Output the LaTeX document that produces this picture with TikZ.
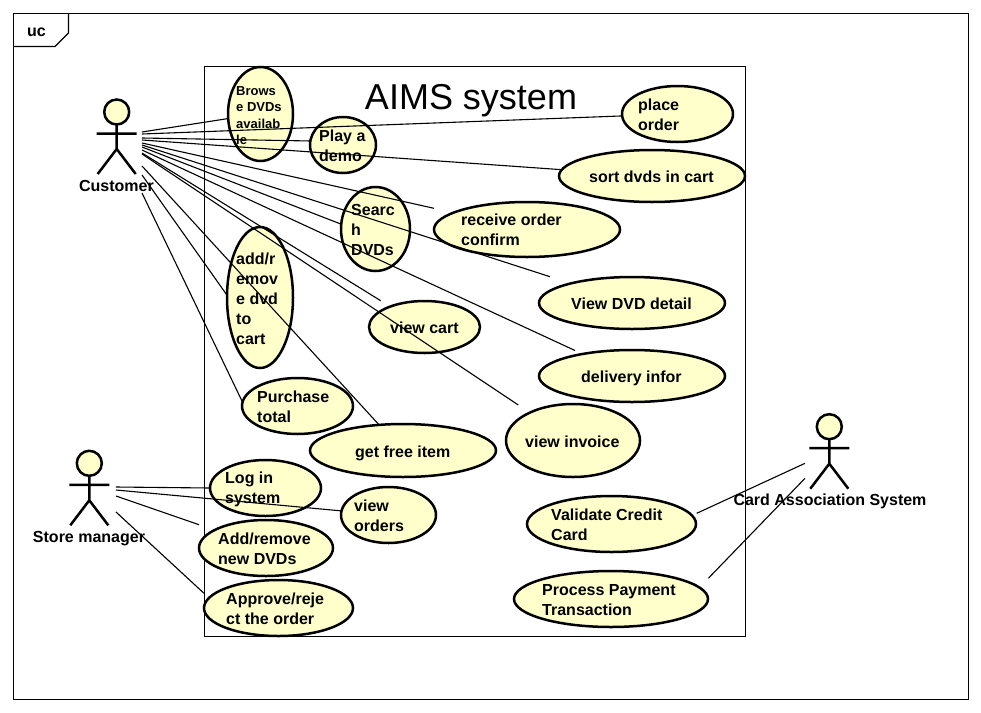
\documentclass[tikz,border=0pt]{standalone}
\usepackage{fontspec}
\setmainfont{Liberation Sans}
\definecolor{ucfill}{HTML}{FFFFCC}
\tikzset{
	usecase/.style={ellipse,draw=black,line width=2.5pt,fill=ucfill,inner sep=0pt,outer sep=0pt},
	usetext/.style={anchor=west,align=left,inner sep=0pt,yshift=-1pt,font=\bfseries\fontsize{16}{20}\selectfont},
	actortext/.style={inner sep=0pt,yshift=-1pt,font=\bfseries\fontsize{16}{20}\selectfont},
	assoc/.style={line width=1.1pt},
	actorfig/.pic={
		\draw[line width=2.5pt,fill=ucfill] (0,0) circle (12.5);
		\draw[line width=2.5pt] (0,12.5) -- (0,37) (-20,21.5) -- (20,21.5) (-19,62) -- (0,37) -- (19,62);
	}
}
\usetikzlibrary{shapes.geometric}
\begin{document}
\begin{tikzpicture}[x=1pt,y=-1pt]
	\useasboundingbox (0,0) rectangle (981,712);
	\draw[line width=1.2pt] (13.5,13.5) rectangle (968.5,699.5);
	\draw[line width=1.2pt] (13.5,46.5) -- (55,46.5) -- (68.5,33) -- (68.5,13.5);
	\node[usetext] (frametitle) at (27,31.5) {uc};
	\draw[line width=1pt] (204.5,66.5) rectangle (745.5,636.5);
	\node[inner sep=0pt,font=\fontsize{36}{40}\selectfont] (systemtitle) at (471,101) {AIMS system};

	\pic at (116.7,112) {actorfig};
	\node[actortext] (customer) at (116.5,185) {Customer};
	\pic at (89.3,463.3) {actorfig};
	\node[actortext] (manager) at (89,538) {Store manager};
	\pic at (829.3,426.7) {actorfig};
	\node[actortext] (cardsys) at (830,500) {Card Association System};

	\node[usecase,minimum width=65,minimum height=94] (browse) at (260.5,114) {};
	\node[usetext,font=\bfseries\fontsize{13}{16.5}\selectfont] (browsetext) at (236,114.5) {Brows\\e DVDs\\availab\\le};
	\node[usecase,minimum width=66,minimum height=56] (demo) at (343,145) {};
	\node[usetext] (demotext) at (319,145) {Play a\\demo};
	\node[usecase,minimum width=69,minimum height=84] (search) at (375.5,229) {};
	\node[usetext] (searchtext) at (351,229) {Searc\\h\\DVDs};
	\node[usecase,minimum width=111,minimum height=56] (place) at (677.5,114) {};
	\node[usetext] (placetext) at (638,114) {place\\order};
	\node[usecase,minimum width=186,minimum height=52] (sort) at (652,176) {};
	\node[usetext] (sorttext) at (589,176) {sort dvds in cart};
	\node[usecase,minimum width=186,minimum height=55] (receive) at (527,229.5) {};
	\node[usetext] (receivetext) at (461,229) {receive order\\confirm};
	\node[usecase,minimum width=186,minimum height=52] (detail) at (632,303) {};
	\node[usetext] (detailtext) at (571,303) {View DVD detail};
	\node[usecase,minimum width=186,minimum height=52] (delivery) at (632,376) {};
	\node[usetext] (deliverytext) at (581,377) {delivery infor};
	\node[usecase,minimum width=111,minimum height=52] (cart) at (424.5,327) {};
	\node[usetext] (carttext) at (390,327) {view cart};
	\node[usecase,minimum width=134,minimum height=73] (invoice) at (573,440.5) {};
	\node[usetext] (invoicetext) at (525,441) {view invoice};
	\node[usecase,minimum width=66,minimum height=141] (addcart) at (260,297.5) {};
	\node[usetext] (addcarttext) at (236,298) {add/r\\emov\\e dvd\\to\\cart};
	\node[usecase,minimum width=111,minimum height=56] (purchase) at (297.5,406) {};
	\node[usetext] (purchasetext) at (257,406) {Purchase\\total};
	\node[usecase,minimum width=186,minimum height=53] (free) at (403,450.5) {};
	\node[usetext] (freetext) at (355,452) {get free item};
	\node[usecase,minimum width=111,minimum height=56] (login) at (265.5,488) {};
	\node[usetext] (logintext) at (225,488) {Log in\\system};
	\node[usecase,minimum width=95,minimum height=56] (orders) at (388.5,515) {};
	\node[usetext] (orderstext) at (354,515) {view\\orders};
	\node[usecase,minimum width=134,minimum height=56] (addnew) at (266,548) {};
	\node[usetext] (addnewtext) at (218,548) {Add/remove\\new DVDs};
	\node[usecase,minimum width=149,minimum height=56] (approve) at (278.5,608) {};
	\node[usetext] (approvetext) at (226,608) {Approve/reje\\ct the order};
	\node[usecase,minimum width=169,minimum height=56] (validate) at (611.5,524) {};
	\node[usetext] (validatetext) at (551,524) {Validate Credit\\Card};
	\node[usecase,minimum width=194,minimum height=56] (process) at (611,599) {};
	\node[usetext] (processtext) at (542,599) {Process Payment\\Transaction};

	% loose ends beside the actors
	\coordinate (cuA) at (142,132);
	\coordinate (cuB) at (142,134);
	\coordinate (cuC) at (142,138);
	\coordinate (cuD) at (142,140);
	\coordinate (cuE) at (142,143);
	\coordinate (cuF) at (142,145);
	\coordinate (cuG) at (142,147);
	\coordinate (cuH) at (142,150);
	\coordinate (cuI) at (142,153);
	\coordinate (cuJ) at (142,154);
	\coordinate (cuK) at (142,166);
	\coordinate (cuL) at (142,175);
	\coordinate (cuM) at (142,193);
	\coordinate (smA) at (116,487);
	\coordinate (smB) at (116,490);
	\coordinate (smC) at (116,496);
	\coordinate (smD) at (116,512);
	\coordinate (caA) at (805,463.3);
	\coordinate (caB) at (805,478.3);
	% loose ends beside the use cases
	\coordinate (toreceive) at (434,208.3);
	\coordinate (todetail) at (550,276.7);
	\coordinate (todelivery) at (575,350.5);
	\coordinate (tocart) at (380.7,300.7);
	\coordinate (toinvoice) at (518.3,405);
	\coordinate (toaddnew) at (199,524.7);
	\coordinate (toapprove) at (204,593.3);
	\coordinate (tovalidate) at (696.7,513.3);
	\coordinate (toprocess) at (708.3,578.3);

	\draw[assoc] (cuA) -- (browse.188);
	\draw[assoc] (cuB) -- (place.182);
	\draw[assoc] (cuC) -- (demo.173);
	\draw[assoc] (cuD) -- (sort.176);
	\draw[assoc] (cuE) -- (toreceive);
	\draw[assoc] (cuF) -- (todetail);
	\draw[assoc] (cuG) -- (search.172);
	\draw[assoc] (cuH) -- (todelivery);
	\draw[assoc] (cuI) -- (tocart);
	\draw[assoc] (cuJ) -- (toinvoice);
	\draw[assoc] (cuK) -- (free.133);
	\draw[assoc] (cuL) -- (addcart.176);
	\draw[assoc] (cuM) -- (purchase.176);
	\draw[assoc] (smA) -- (login.180);
	\draw[assoc] (smB) -- (orders.175);
	\draw[assoc] (smC) -- (toaddnew);
	\draw[assoc] (smD) -- (toapprove);
	\draw[assoc] (caA) -- (tovalidate);
	\draw[assoc] (caB) -- (toprocess);
\end{tikzpicture}
\end{document}
